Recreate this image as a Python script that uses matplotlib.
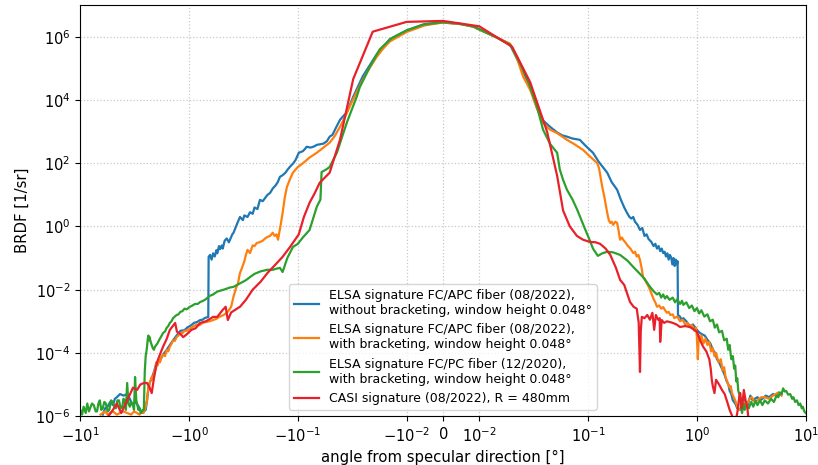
import numpy as np
import matplotlib
matplotlib.use("Agg")
import matplotlib.pyplot as plt
from matplotlib.ticker import NullLocator

# BRDF profiles, angle in degrees from the specular direction,
# BRDF given as log10 of the value in 1/sr (read in decades)

# ELSA FC/APC fiber (08/2022), without bracketing
blue_x = [
    -6.2, -5.9, -5.6, -5.3, -5.0, -4.8, -4.6, -4.3, -4.0, -3.7,
    -3.5, -3.3, -3.1, -2.9, -2.7, -2.6, -2.5, -2.43, -2.36, -2.3,
    -2.2, -2.1, -2.0, -1.85, -1.73, -1.6, -1.5, -1.4, -1.3, -1.2,
    -1.1, -1.04, -0.95, -0.9, -0.84, -0.79, -0.75, -0.72, -0.69, -0.665,
    -0.66, -0.64, -0.62, -0.6, -0.58, -0.56, -0.55, -0.53, -0.52, -0.5,
    -0.49, -0.47, -0.45, -0.43, -0.42, -0.4, -0.39, -0.37, -0.36, -0.34,
    -0.32, -0.31, -0.29, -0.275, -0.26, -0.25, -0.235, -0.223, -0.21, -0.2,
    -0.19, -0.18, -0.17, -0.16, -0.153, -0.146, -0.138, -0.13, -0.124, -0.118,
    -0.11, -0.105, -0.098, -0.093, -0.09, -0.086, -0.083, -0.078, -0.075, -0.07,
    -0.067, -0.062, -0.058, -0.054, -0.051, -0.048, -0.045, -0.041, -0.038, -0.0355,
    -0.031, -0.0253, -0.0188, -0.0143, -0.01, -0.005, 0.0, 0.005, 0.0083, 0.0146,
    0.0192, 0.0254, 0.0294, 0.034, 0.0386, 0.0448, 0.052, 0.058, 0.064, 0.072,
    0.084, 0.095, 0.111, 0.125, 0.135, 0.15, 0.165, 0.185, 0.2, 0.215,
    0.228, 0.24, 0.25, 0.26, 0.27, 0.285, 0.30, 0.315, 0.33, 0.345,
    0.36, 0.38, 0.40, 0.415, 0.43, 0.445, 0.46, 0.475, 0.49, 0.505,
    0.52, 0.535, 0.55, 0.565, 0.58, 0.595, 0.61, 0.625, 0.64, 0.655,
    0.665, 0.67, 0.7, 0.72, 0.75, 0.8, 0.86, 0.92, 1.0, 1.05,
    1.1, 1.18, 1.26, 1.33, 1.4, 1.47, 1.53, 1.6, 1.7, 1.8,
    1.88, 1.95, 2.0, 2.07, 2.14, 2.25, 2.35, 2.5, 2.6, 2.7,
    2.8, 2.9, 3.1, 3.25, 3.4, 3.6, 3.8, 4.0, 4.3, 4.6,
    5.0, 5.3, 5.6, 6.0,
]
blue_log = [
    -5.95, -5.75, -5.7, -5.55, -5.65, -5.45, -5.4, -5.3, -5.35, -5.3,
    -5.45, -5.65, -5.55, -5.7, -5.9, -5.85, -5.8, -5.5, -5.1, -4.95,
    -4.8, -4.6, -4.35, -4.25, -4.05, -3.9, -3.75, -3.6, -3.45, -3.3,
    -3.28, -3.2, -3.12, -3.05, -3.02, -2.96, -2.95, -2.9, -2.88, -2.86,
    -0.96, -0.9, -1.05, -0.85, -0.95, -0.75, -0.85, -0.62, -0.72, -0.6,
    -0.7, -0.45, -0.38, -0.5, -0.42, -0.25, -0.2, 0.0, 0.1, 0.3,
    0.2, 0.35, 0.3, 0.45, 0.4, 0.6, 0.55, 0.84, 0.8, 0.9,
    1.0, 1.06, 1.2, 1.3, 1.4, 1.57, 1.62, 1.7, 1.8, 1.89,
    2.0, 2.1, 2.33, 2.36, 2.38, 2.45, 2.52, 2.5, 2.5, 2.54,
    2.58, 2.6, 2.62, 2.7, 2.84, 2.9, 3.1, 3.37, 3.5, 3.6,
    4.1, 4.75, 5.45, 5.92, 6.2, 6.4, 6.45, 6.4, 6.32, 5.97,
    5.75, 4.9, 4.4, 3.75, 3.35, 3.15, 2.97, 2.88, 2.84, 2.78,
    2.74, 2.55, 2.33, 2.05, 1.9, 1.7, 1.4, 1.16, 0.85, 0.6,
    0.43, 0.3, 0.25, 0.3, 0.15, 0.05, -0.11, -0.05, -0.3, -0.25,
    -0.4, -0.48, -0.62, -0.55, -0.7, -0.62, -0.78, -0.7, -0.84, -0.8,
    -0.95, -0.85, -1.05, -0.9, -0.98, -1.2, -1.0, -1.25, -1.05, -1.2,
    -1.1, -2.8, -2.85, -2.95, -2.9, -3.0, -3.15, -3.1, -3.27, -3.35,
    -3.4, -3.45, -3.6, -3.7, -3.9, -4.0, -4.2, -4.3, -4.5, -4.7,
    -4.9, -5.0, -5.2, -5.3, -5.5, -5.6, -5.75, -5.8, -5.6, -5.45,
    -5.6, -5.7, -5.35, -5.5, -5.45, -5.4, -5.5, -5.45, -5.35, -5.4,
    -5.3, -5.35, -5.25, -5.3,
]

# ELSA FC/APC fiber (08/2022), with bracketing
orange_x = [
    -6.5, -6.2, -5.9, -5.6, -5.3, -5.0, -4.6, -4.3, -4.0, -3.7,
    -3.4, -3.2, -3.0, -2.85, -2.7, -2.62, -2.55, -2.5, -2.46, -2.43,
    -2.4, -2.36, -2.33, -2.3, -2.25, -2.2, -2.15, -2.1, -2.05, -2.0,
    -1.95, -1.9, -1.85, -1.8, -1.73, -1.66, -1.6, -1.55, -1.5, -1.45,
    -1.4, -1.35, -1.3, -1.25, -1.2, -1.15, -1.1, -1.05, -1.0, -0.95,
    -0.9, -0.85, -0.8, -0.75, -0.7, -0.65, -0.6, -0.56, -0.52, -0.48,
    -0.45, -0.43, -0.41, -0.39, -0.37, -0.355, -0.34, -0.325, -0.31, -0.3,
    -0.29, -0.275, -0.26, -0.25, -0.238, -0.225, -0.21, -0.2, -0.19, -0.18,
    -0.17, -0.163, -0.157, -0.152, -0.148, -0.143, -0.138, -0.132, -0.126, -0.118,
    -0.111, -0.1, -0.089, -0.078, -0.067, -0.058, -0.051, -0.046, -0.041, -0.037,
    -0.0335, -0.0293, -0.0253, -0.022, -0.0188, -0.0162, -0.0143, -0.01, -0.005, 0.0,
    0.005, 0.0083, 0.0146, 0.0192, 0.0223, 0.0254, 0.0294, 0.034, 0.0386, 0.0448,
    0.052, 0.064, 0.075, 0.09, 0.105, 0.121, 0.126, 0.13, 0.135, 0.14,
    0.145, 0.15, 0.155, 0.16, 0.165, 0.17, 0.178, 0.185, 0.19, 0.197,
    0.205, 0.21, 0.22, 0.23, 0.245, 0.26, 0.27, 0.28, 0.29, 0.30,
    0.31, 0.32, 0.34, 0.36, 0.38, 0.40, 0.415, 0.43, 0.45, 0.47,
    0.49, 0.51, 0.53, 0.55, 0.57, 0.6, 0.62, 0.66, 0.7, 0.74,
    0.78, 0.82, 0.86, 0.9, 0.95, 0.98, 1.0, 1.02, 1.04, 1.07,
    1.1, 1.15, 1.2, 1.25, 1.3, 1.35, 1.4, 1.45, 1.5, 1.58,
    1.66, 1.72, 1.78, 1.84, 1.88, 1.94, 2.0, 2.05, 2.1, 2.18,
    2.25, 2.35, 2.45, 2.55, 2.7, 2.8, 2.9, 3.05, 3.2, 3.4,
    3.6, 3.9, 4.2, 4.6, 5.0, 5.3, 5.5, 5.8, 6.0,
]
orange_log = [
    -5.95, -5.9, -5.85, -5.95, -5.9, -5.85, -5.95, -5.9, -5.85, -5.9,
    -5.95, -5.85, -5.9, -5.95, -5.85, -5.9, -5.8, -5.7, -5.55, -5.5,
    -5.3, -5.1, -5.15, -4.95, -4.85, -4.76, -4.85, -4.6, -4.55, -4.3,
    -4.4, -4.25, -4.3, -4.15, -4.05, -4.1, -3.9, -3.95, -3.8, -3.72,
    -3.6, -3.62, -3.5, -3.45, -3.37, -3.38, -3.3, -3.3, -3.25, -3.2,
    -3.15, -3.1, -3.12, -3.05, -3.02, -3.0, -2.96, -2.92, -2.85, -2.8,
    -2.73, -2.65, -2.54, -2.22, -1.95, -1.8, -1.47, -1.3, -1.1, -0.9,
    -0.74, -0.84, -0.6, -0.62, -0.52, -0.5, -0.45, -0.38, -0.33, -0.3,
    -0.2, -0.3, -0.25, -0.42, -0.2, 0.1, 0.43, 0.9, 1.25, 1.5,
    1.7, 1.88, 2.01, 2.18, 2.33, 2.5, 2.65, 2.85, 3.15, 3.45,
    3.78, 4.2, 4.64, 5.0, 5.37, 5.65, 5.85, 6.15, 6.36, 6.45,
    6.4, 6.32, 5.97, 5.78, 5.3, 4.73, 4.32, 3.72, 3.28, 3.06,
    2.95, 2.74, 2.6, 2.42, 2.2, 2.01, 1.85, 1.57, 1.25, 1.0,
    0.7, 0.43, 0.2, 0.11, 0.15, 0.05, 0.15, 0.11, -0.1, -0.42,
    -0.35, -0.42, -0.5, -0.6, -0.7, -0.84, -0.8, -0.95, -0.9, -1.06,
    -1.3, -1.6, -1.75, -1.9, -2.1, -2.3, -2.4, -2.54, -2.5, -2.6,
    -2.55, -2.65, -2.73, -2.7, -2.8, -2.78, -2.9, -2.85, -3.0, -2.95,
    -3.1, -3.05, -3.18, -3.12, -3.3, -3.2, -3.5, -4.2, -3.45, -3.6,
    -3.45, -3.7, -3.55, -3.75, -3.65, -3.95, -3.85, -4.1, -4.0, -4.3,
    -4.2, -4.55, -4.45, -4.8, -4.85, -5.0, -5.1, -5.05, -5.27, -5.4,
    -5.5, -5.7, -5.8, -5.75, -5.55, -5.7, -5.6, -5.45, -5.4, -5.55,
    -5.5, -5.4, -5.4, -5.45, -5.35, -5.3, -5.27, -5.3, -5.35,
]

# ELSA FC/PC fiber (12/2020), with bracketing
green_x = [
    -10, -9.6, -9.3, -8.9, -8.6, -8.3, -8.1, -7.8, -7.5, -7.2,
    -7.0, -6.8, -6.6, -6.4, -6.2, -6.0, -5.8, -5.6, -5.4, -5.2,
    -5.0, -4.85, -4.7, -4.55, -4.4, -4.25, -4.1, -4.0, -3.9, -3.8,
    -3.7, -3.6, -3.5, -3.4, -3.3, -3.2, -3.13, -3.05, -3.0, -2.92,
    -2.85, -2.78, -2.7, -2.64, -2.6, -2.55, -2.5, -2.46, -2.43, -2.39,
    -2.36, -2.33, -2.3, -2.25, -2.2, -2.15, -2.1, -2.05, -2.0, -1.95,
    -1.9, -1.85, -1.78, -1.73, -1.66, -1.6, -1.55, -1.5, -1.45, -1.4,
    -1.35, -1.3, -1.25, -1.2, -1.15, -1.1, -1.05, -0.98, -0.93, -0.88,
    -0.83, -0.79, -0.74, -0.7, -0.65, -0.6, -0.55, -0.48, -0.42, -0.39,
    -0.34, -0.3, -0.275, -0.25, -0.22, -0.19, -0.17, -0.155, -0.146, -0.138,
    -0.125, -0.111, -0.1, -0.09, -0.078, -0.067, -0.062, -0.0605, -0.055, -0.051,
    -0.0438, -0.0355, -0.0288, -0.027, -0.0218, -0.0177, -0.0138, -0.01, -0.0056, 0.0,
    0.004, 0.0083, 0.0146, 0.0192, 0.0223, 0.0275, 0.034, 0.0386, 0.045, 0.052,
    0.055, 0.059, 0.064, 0.072, 0.079, 0.092, 0.104, 0.111, 0.123, 0.135,
    0.15, 0.17, 0.197, 0.23, 0.26, 0.3, 0.33, 0.36, 0.4, 0.43,
    0.45, 0.47, 0.49, 0.51, 0.53, 0.56, 0.6, 0.63, 0.66, 0.7,
    0.73, 0.75, 0.8, 0.85, 0.9, 0.95, 1.0, 1.05, 1.1, 1.17,
    1.25, 1.32, 1.4, 1.46, 1.53, 1.6, 1.7, 1.78, 1.88, 1.94,
    2.0, 2.07, 2.14, 2.2, 2.25, 2.3, 2.35, 2.4, 2.45, 2.5,
    2.55, 2.6, 2.68, 2.75, 2.85, 3.0, 3.15, 3.3, 3.45, 3.6,
    3.8, 4.0, 4.2, 4.5, 4.8, 5.1, 5.4, 5.6, 5.8, 6.0,
    6.2, 6.4, 6.6, 6.9, 7.2, 7.5, 7.7, 8.0, 8.3, 8.6,
    8.9, 9.2, 9.4, 9.7, 10,
]
green_log = [
    -5.8, -5.95, -5.7, -5.9, -5.6, -5.85, -5.75, -5.6, -5.65, -5.85,
    -5.85, -5.6, -5.5, -5.8, -5.75, -5.55, -5.6, -5.85, -5.8, -5.5,
    -5.55, -5.7, -5.75, -5.5, -5.5, -5.75, -5.7, -5.45, -5.5, -5.8,
    -4.95, -5.6, -5.7, -5.55, -5.6, -5.8, -4.76, -5.5, -5.6, -5.8,
    -5.75, -5.9, -5.85, -5.8, -5.8, -4.6, -4.1, -3.95, -3.8, -3.55,
    -3.45, -3.6, -3.5, -3.65, -3.75, -3.85, -3.9, -3.8, -3.75, -3.7,
    -3.62, -3.55, -3.45, -3.37, -3.32, -3.2, -3.15, -3.05, -3.0, -2.9,
    -2.85, -2.8, -2.78, -2.7, -2.68, -2.6, -2.62, -2.54, -2.5, -2.45,
    -2.45, -2.39, -2.35, -2.3, -2.2, -2.15, -2.06, -2.0, -1.93, -1.91,
    -1.8, -1.7, -1.6, -1.5, -1.42, -1.37, -1.37, -1.33, -1.31, -1.44,
    -1.0, -0.65, -0.55, -0.35, -0.11, 0.62, 0.85, 1.72, 1.8, 1.88,
    2.33, 3.28, 4.1, 4.4, 5.05, 5.6, 5.95, 6.2, 6.38, 6.46,
    6.42, 6.33, 5.97, 5.75, 5.34, 4.7, 3.78, 3.06, 2.6, 2.33,
    1.8, 1.47, 1.16, 0.85, 0.55, -0.01, -0.45, -0.7, -0.93, -0.85,
    -0.8, -0.82, -0.9, -1.08, -1.28, -1.5, -1.65, -1.85, -2.05, -2.15,
    -2.1, -2.25, -2.15, -2.28, -2.2, -2.32, -2.25, -2.4, -2.3, -2.45,
    -2.35, -2.48, -2.4, -2.58, -2.5, -2.68, -2.58, -2.75, -2.65, -2.85,
    -2.78, -3.0, -2.95, -3.2, -3.1, -3.35, -3.3, -3.6, -3.55, -3.9,
    -3.75, -4.2, -4.1, -4.5, -4.4, -4.9, -4.8, -5.2, -5.3, -5.5,
    -5.75, -5.9, -5.6, -5.8, -5.65, -5.75, -5.55, -5.7, -5.5, -5.65,
    -5.5, -5.65, -5.5, -5.6, -5.45, -5.55, -5.35, -5.4, -5.25, -5.3,
    -5.12, -5.22, -5.2, -5.32, -5.3, -5.45, -5.4, -5.55, -5.5, -5.65,
    -5.6, -5.75, -5.7, -5.85, -5.9,
]

# CASI (08/2022), R = 480mm
red_x = [
    -6.2, -5.5, -5.0, -4.6, -4.2, -3.7, -3.27, -3.0, -2.8, -2.6,
    -2.43, -2.3, -2.2, -2.1, -1.97, -1.85, -1.73, -1.6, -1.5, -1.43,
    -1.34, -1.29, -1.2, -1.13, -1.04, -0.95, -0.87, -0.79, -0.7, -0.6,
    -0.55, -0.49, -0.46, -0.44, -0.41, -0.37, -0.34, -0.3, -0.26, -0.22,
    -0.19, -0.16, -0.138, -0.118, -0.098, -0.088, -0.078, -0.07, -0.063, -0.051,
    -0.041, -0.031, -0.0205, -0.01, 0.0, 0.01, 0.0201, 0.0294, 0.042, 0.052,
    0.059, 0.068, 0.079, 0.09, 0.104, 0.117, 0.129, 0.145, 0.16, 0.18,
    0.197, 0.215, 0.243, 0.262, 0.28, 0.292, 0.3, 0.305, 0.312, 0.33,
    0.35, 0.37, 0.39, 0.405, 0.42, 0.44, 0.455, 0.46, 0.475, 0.5,
    0.53, 0.56, 0.6, 0.65, 0.7, 0.78, 0.86, 0.93, 1.0, 1.07,
    1.14, 1.22, 1.3, 1.34, 1.37, 1.4, 1.45, 1.5, 1.6, 1.7,
    1.8, 1.88, 2.0, 2.14, 2.25, 2.35, 2.45, 2.5, 2.58, 2.64,
    2.7, 2.8, 2.9, 3.0,
]
red_log = [
    -6.2, -6.0, -5.8, -5.6, -5.9, -5.5, -5.1, -5.17, -5.0, -4.95,
    -4.95, -5.1, -5.27, -4.8, -4.3, -4.05, -3.8, -3.55, -3.27, -3.18,
    -3.05, -3.33, -3.4, -3.5, -3.4, -3.27, -3.22, -3.05, -3.0, -2.86,
    -2.86, -2.64, -2.54, -2.96, -2.72, -2.62, -2.54, -2.32, -2.0, -1.75,
    -1.47, -1.2, -0.96, -0.65, -0.25, 0.3, 0.75, 1.05, 1.38, 1.7,
    2.74, 4.66, 6.16, 6.47, 6.5, 6.33, 5.68, 4.56, 3.0, 1.6,
    0.5, 0.0, -0.3, -0.42, -0.49, -0.5, -0.55, -0.7, -0.9, -1.3,
    -1.69, -1.85, -2.39, -2.54, -2.6, -3.05, -4.6, -3.3, -2.86, -2.9,
    -2.8, -2.95, -2.73, -3.27, -2.8, -2.95, -2.9, -3.65, -2.96, -3.05,
    -3.0, -3.02, -3.05, -3.1, -3.18, -3.15, -3.18, -3.25, -3.33, -3.6,
    -3.8, -3.95, -4.2, -4.5, -4.85, -5.05, -5.27, -4.85, -5.0, -5.17,
    -5.3, -5.5, -5.8, -6.05, -6.2, -5.9, -5.4, -5.27, -5.75, -5.5,
    -5.17, -5.5, -5.7, -6.2,
]

labels = [
    "ELSA signature FC/APC fiber (08/2022),\nwithout bracketing, window height 0.048°",
    "ELSA signature FC/APC fiber (08/2022),\nwith bracketing, window height 0.048°",
    "ELSA signature FC/PC fiber (12/2020),\nwith bracketing, window height 0.048°",
    "CASI signature (08/2022), R = 480mm",
]
colors = ["#1f77b4", "#ff7f0e", "#2ca02c", "#e8202a"]

series = [
    (blue_x, blue_log),
    (orange_x, orange_log),
    (green_x, green_log),
    (red_x, red_log),
]

fig, ax = plt.subplots(figsize=(8.18, 4.65), dpi=100)
fig.subplots_adjust(left=0.098, right=0.985, bottom=0.105, top=0.989)

for (xs, logs), label, color in zip(series, labels, colors):
    ax.plot(xs, 10.0 ** np.asarray(logs), color=color, lw=1.6, label=label)

ax.set_xscale("symlog", linthresh=0.01, linscale=0.3)
ax.set_yscale("log")
ax.set_xlim(-10, 10)
ax.set_ylim(1e-6, 1e7)
ax.set_yticks([1e-6, 1e-4, 1e-2, 1e0, 1e2, 1e4, 1e6])
ax.yaxis.set_minor_locator(NullLocator())
ax.xaxis.set_minor_locator(NullLocator())
ax.tick_params(labelsize=10.5)

ax.set_xlabel("angle from specular direction [°]", fontsize=10.7)
ax.set_ylabel("BRDF [1/sr]", fontsize=10.7)
ax.grid(True, which="major", linestyle=":", color="#c8c8c8", linewidth=0.9)
ax.legend(loc="lower center", fontsize=9)

fig.savefig("out.png", dpi=100)
